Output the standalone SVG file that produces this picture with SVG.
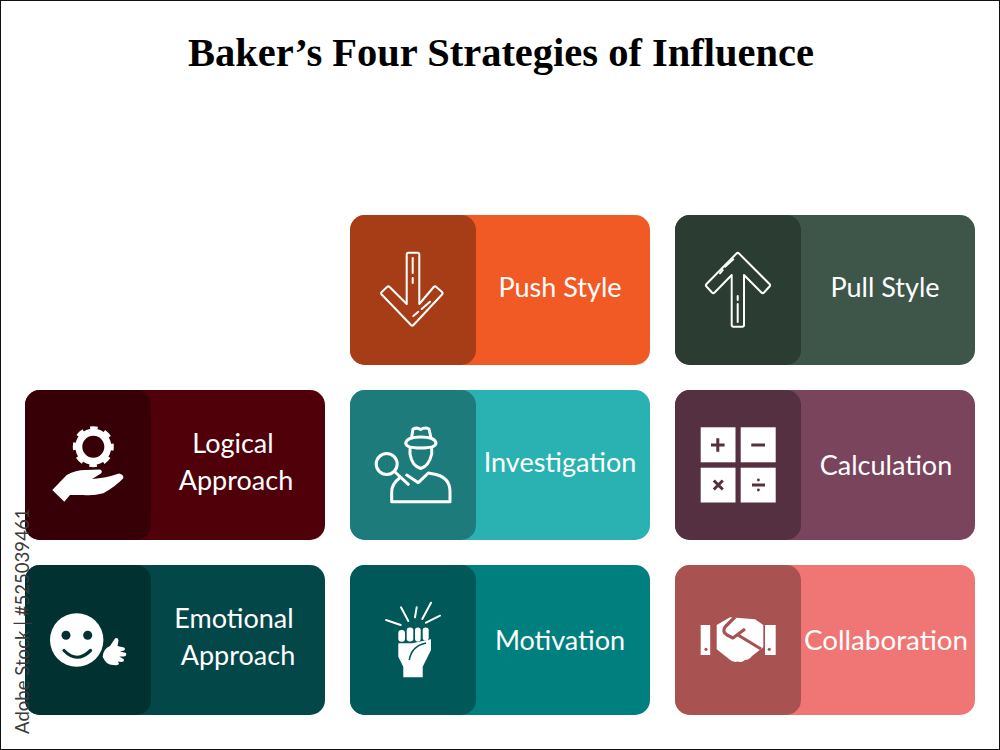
<svg xmlns="http://www.w3.org/2000/svg" width="1000" height="750" viewBox="0 0 1000 750">
<style>
.label{font-family:"Lato","Open Sans","Liberation Sans",sans-serif;font-size:27px;fill:#fff;text-anchor:middle}
.title{font-family:"Liberation Serif","Times New Roman",serif;font-size:40.5px;font-weight:bold;fill:#000;text-anchor:middle}
.stock{font-family:"Lato","Liberation Sans",sans-serif;font-size:18.6px;fill:#3a3a3a}
.line{fill:none;stroke:#fff;stroke-width:2;stroke-linejoin:round;stroke-linecap:round}
.fat{fill:none;stroke:#fff;stroke-width:3;stroke-linejoin:round;stroke-linecap:round}
.solid{fill:#fff}
</style>
<rect width="1000" height="750" fill="#fff"/>
<text class="title" x="501" y="66">Baker’s Four Strategies of Influence</text>

<g id="push-style">
<rect x="350" y="215" width="300" height="150" rx="15" fill="#F15A24"/>
<rect x="350" y="215" width="126" height="150" rx="15" fill="#A63D16"/>
<path class="line" d="M406.7 254.5Q406.7 252.7 408.5 252.7H417.5Q419.3 252.7 419.3 254.5V304L433.7 287Q435 285.7 436.3 287L442 292Q443.2 293.2 442 294.5L413.5 325Q412.3 326.2 411 325L381.7 294.5Q380.5 293.2 381.7 292L387 287Q388.3 285.7 389.6 287L406.7 304Z"/>
<path class="line" d="M412.7 258V273M412.7 278V283M413.3 316L418.3 311.7M421.7 309L430 301.7"/>
<text class="label" x="560" y="297">Push Style</text>
</g>

<g id="pull-style">
<rect x="675" y="215" width="300" height="150" rx="15" fill="#3E564A"/>
<rect x="675" y="215" width="126" height="150" rx="15" fill="#2B3C33"/>
<path class="line" d="M736.5 253.5Q737.7 252.3 739 253.5L769.5 284Q770.7 285.2 769.5 286.5L764 292.5Q762.7 293.8 761.4 292.5L744 275V325Q744 326.8 742.2 326.8H733.5Q731.7 326.8 731.7 325V275L714.6 292.5Q713.3 293.8 712 292.5L706.5 286.5Q705.3 285.2 706.5 284Z"/>
<path class="line" d="M737.7 296V300M737.7 304V322M725 266.7L733.3 259.3M720 273.3L722.7 270"/>
<text class="label" x="885" y="297">Pull Style</text>
</g>

<g id="logical-approach">
<rect x="25" y="390" width="300" height="150" rx="15" fill="#4F0009"/>
<rect x="25" y="390" width="126" height="150" rx="15" fill="#360006"/>
<circle cx="93.3" cy="446.7" r="14.5" fill="none" stroke="#fff" stroke-width="7"/>
<circle cx="93.3" cy="446.7" r="18.5" fill="none" stroke="#fff" stroke-width="4" stroke-dasharray="7.5 7.03" stroke-dashoffset="3.75"/>
<path class="solid" d="M52.3 490L66.7 475Q76 470 85 470L100 469.5Q103 470.5 101 473.5L92 479Q106 478 119 473.5Q124 474.5 123.3 478.3Q115 487 103.3 493.3Q93 496 83.3 495H70L64.3 501.7Z"/>
<text class="label" x="233" y="453">Logical</text>
<text class="label" x="236" y="490">Approach</text>
</g>

<g id="investigation">
<rect x="350" y="390" width="300" height="150" rx="15" fill="#2AB1B1"/>
<rect x="350" y="390" width="126" height="150" rx="15" fill="#1D7B7C"/>
<path class="fat" d="M411.5 438L413 429Q417 427 420.7 429.5Q425 427 429 429L431 438M405.7 443Q407 437 420.7 437Q435 437 436 443Q436 448 420.7 448Q405.7 448 405.7 443Z"/>
<path class="fat" d="M410 449V454Q412 466 420.7 468.5Q429 466 431.7 454V449"/>
<circle cx="386.7" cy="464" r="10.5" fill="none" stroke="#fff" stroke-width="3"/>
<path class="fat" d="M394.5 471.5L408.3 484.3M399 478.5Q391.7 484 391.7 492V501.7H450V491.7Q450 478 436 474.5L428.3 473L418.3 482.7L406.7 475"/>
<text class="label" x="560" y="472">Investigation</text>
</g>

<g id="calculation">
<rect x="675" y="390" width="300" height="150" rx="15" fill="#7A445C"/>
<rect x="675" y="390" width="126" height="150" rx="15" fill="#553040"/>
<rect class="solid" x="700.7" y="427.3" width="34.8" height="35"/>
<rect class="solid" x="740.7" y="427.3" width="35" height="35"/>
<rect class="solid" x="700.7" y="467.7" width="34.8" height="34.8"/>
<rect class="solid" x="740.7" y="467.7" width="35" height="34.8"/>
<path fill="none" stroke="#553040" stroke-width="3" d="M711 445H724.6M717.8 438.2V451.8M751.3 445H765M713.8 480.5L722.8 489.5M722.8 480.5L713.8 489.5M752 485H765"/>
<circle cx="758.4" cy="480" r="1.4" fill="#553040"/>
<circle cx="758.4" cy="490" r="1.4" fill="#553040"/>
<text class="label" x="886" y="475">Calculation</text>
</g>

<g id="emotional-approach">
<rect x="25" y="565" width="300" height="150" rx="15" fill="#034748"/>
<rect x="25" y="565" width="126" height="150" rx="15" fill="#023132"/>
<circle class="solid" cx="76.7" cy="640" r="26.7"/>
<circle cx="66" cy="635.3" r="4.5" fill="#023132"/>
<circle cx="87.7" cy="635.3" r="4.5" fill="#023132"/>
<path d="M64 650.5Q77 664 90.5 650.5" fill="none" stroke="#023132" stroke-width="3.2" stroke-linecap="round"/>
<path class="solid" d="M102.7 656.7Q103 649 110 646L115 638.5Q118 637 118.5 640.5L117.5 646L124 647.5Q126 649 124 650.5L120 651.5L126 653Q127 656 124 656.5L119.5 656.5L124 659.5Q124 662 121.5 662L118 661.5L119 664Q117 666 114 665Q106 665.5 102.7 656.7Z"/>
<text class="label" x="234" y="628">Emotional</text>
<text class="label" x="238" y="665">Approach</text>
</g>

<g id="motivation">
<rect x="350" y="565" width="300" height="150" rx="15" fill="#007F7F"/>
<rect x="350" y="565" width="126" height="150" rx="15" fill="#005858"/>
<path class="line" d="M386 620L400.7 625M401 607.3L408.3 621M416.7 607.3L415 617.3M431 602.7L422.3 619M440 615.7L426 622.7"/>
<rect class="solid" x="398.3" y="630" width="6.7" height="11.7" rx="3"/>
<rect class="solid" x="406.7" y="627.5" width="6.6" height="14" rx="3"/>
<rect class="solid" x="415" y="627.5" width="5.7" height="14" rx="2.8"/>
<rect class="solid" x="422.7" y="627.5" width="6" height="13" rx="2.8"/>
<path class="solid" d="M398.3 643.3H412L431 639.3V650L422.7 666.7V677.3H403.3V666.7L398.3 656.7Z"/>
<path d="M426 643Q411.5 646 409.3 660" fill="none" stroke="#005858" stroke-width="1.6"/>
<text class="label" x="560" y="650">Motivation</text>
</g>

<g id="collaboration">
<rect x="675" y="565" width="300" height="150" rx="15" fill="#F07575"/>
<rect x="675" y="565" width="126" height="150" rx="15" fill="#A85252"/>
<rect class="solid" x="700.7" y="625" width="9.5" height="30"/>
<rect class="solid" x="765" y="625" width="10.7" height="30"/>
<circle cx="706" cy="649.3" r="1.6" fill="#A85252"/>
<circle cx="769.3" cy="649.3" r="1.6" fill="#A85252"/>
<path class="solid" d="M716.7 625L730 617.3L755 619.3L763.3 625V647.3L752 656Q749 660 745 660Q742 663 738 661.5Q733 663 729 659L716.7 649.3Z"/>
<path d="M735 617L725 627Q722 632 727 635L733 638L745 629M738 635L761 649" fill="none" stroke="#A85252" stroke-width="3.2" stroke-linejoin="round"/>
<text class="label" style="font-size:27.8px" x="886" y="650">Collaboration</text>
</g>

<text class="stock" transform="translate(29 734) rotate(-90)">Adobe Stock | #525039461</text>
<rect x="0.5" y="0.5" width="999" height="749" fill="none" stroke="#111" stroke-width="1"/>
</svg>
